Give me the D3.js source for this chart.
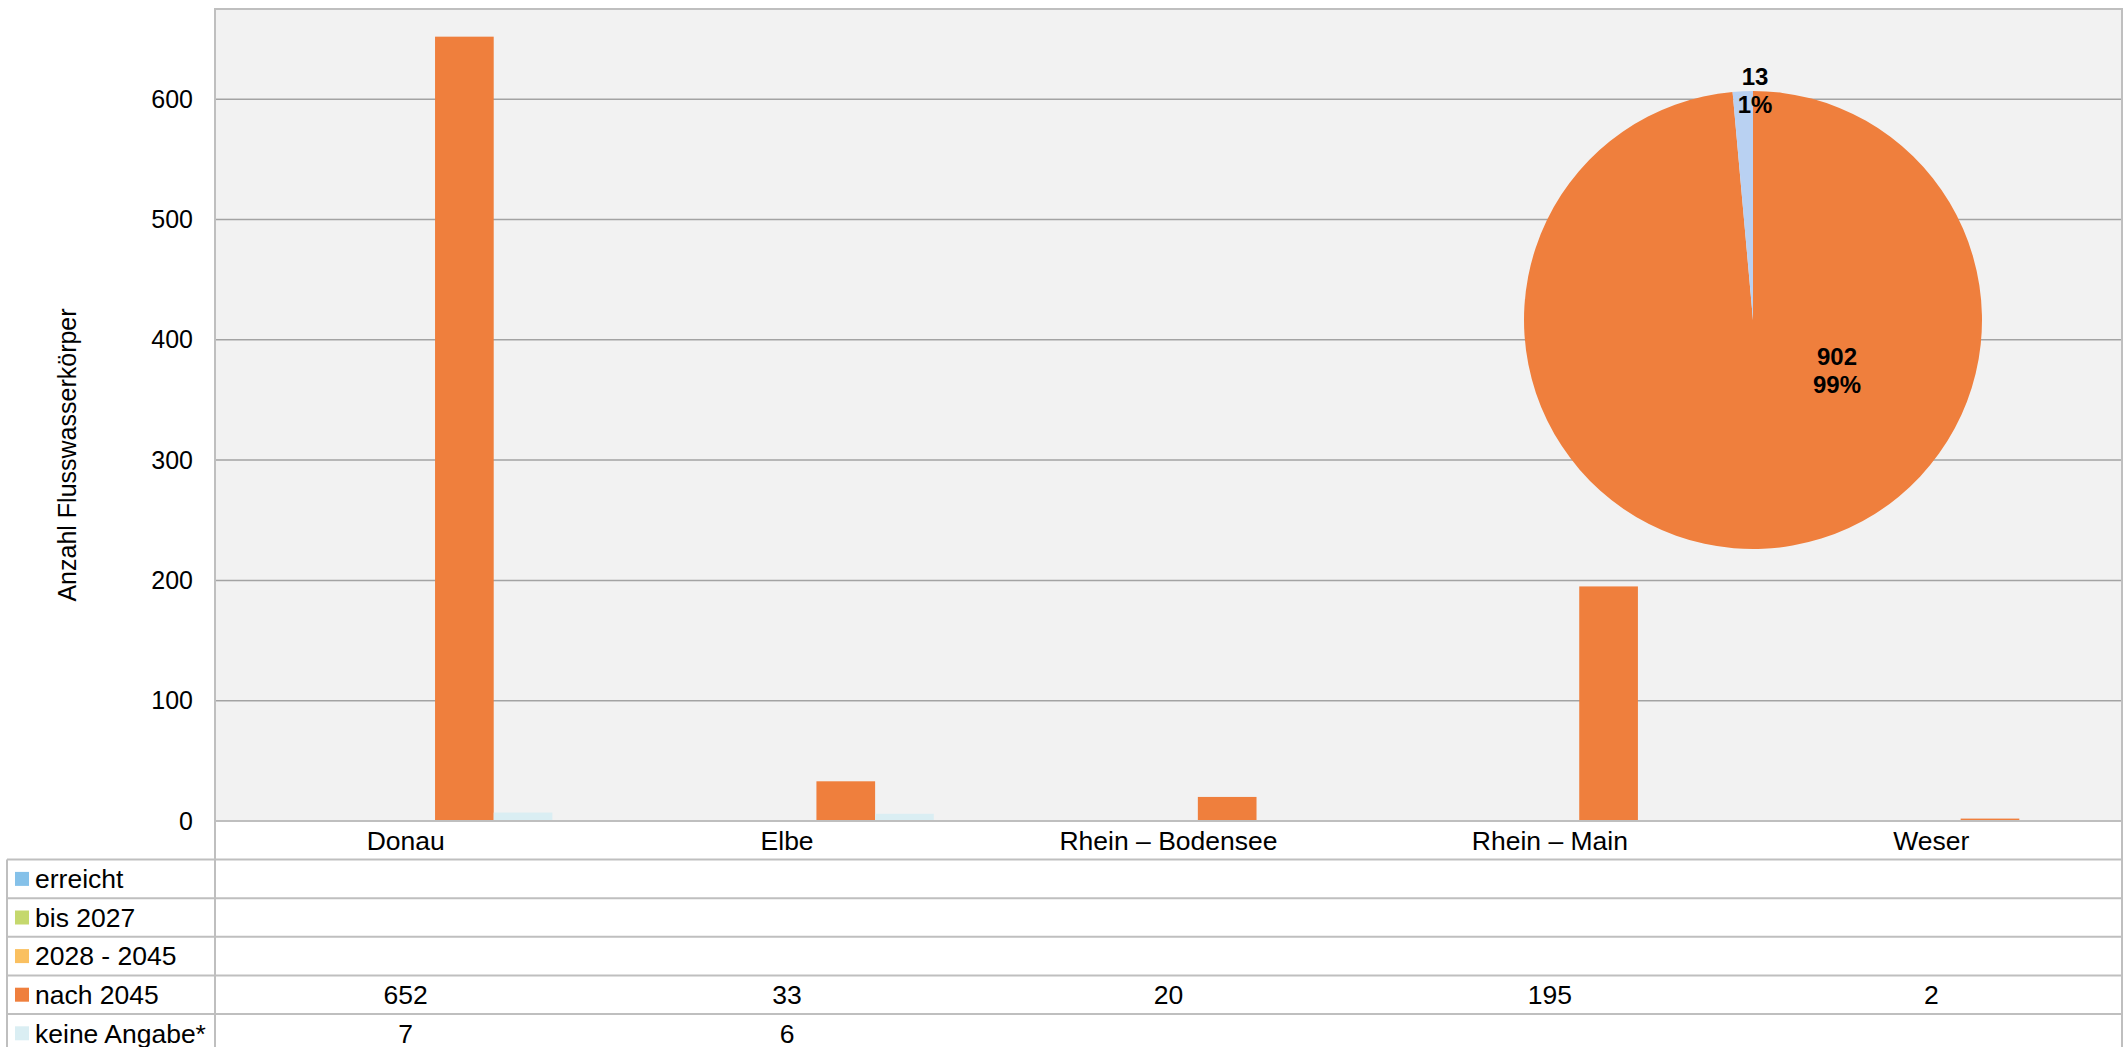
<!DOCTYPE html>
<html>
<head>
<meta charset="utf-8">
<script src="https://cdn.jsdelivr.net/npm/d3@7"></script>
<style>
  body { margin: 0; background: #fff; }
  svg { display: block; font-family: "Liberation Sans", Arial, sans-serif; }
</style>
</head>
<body>
<div id="chart"></div>
<script>
// data
var categories = ["Donau", "Elbe", "Rhein – Bodensee", "Rhein – Main", "Weser"]
var seriesNames = ["erreicht", "bis 2027", "2028 - 2045", "nach 2045", "keine Angabe*"]
var seriesColors = ["#85C1E9", "#C5D86D", "#FAC060", "#EF7F3D", "#DAEEF3"]
var erreicht = [null, null, null, null, null]
var bis2027 = [null, null, null, null, null]
var bis2045 = [null, null, null, null, null]
var nach2045 = [652, 33, 20, 195, 2]
var keineAngabe = [7, 6, null, null, null]
var seriesValues = [erreicht, bis2027, bis2045, nach2045, keineAngabe]
var yTicks = [0, 100, 200, 300, 400, 500, 600]
var pieLabels = ["nach 2045", "keine Angabe"]
var pieValues = [902, 13]
var pieColors = ["#EF7F3D", "#B9D1F2"]

var width = 2127, height = 1047
var L = 215, R = 2122, T = 9, B = 821
var rowH = 38.6
var tableLeft = 7
var tableFont = 26.5

var svg = d3.select("#chart").append("svg")
	.attr("width", width)
	.attr("height", height)

// plot background
svg.append("rect")
	.attr("x", L).attr("y", T)
	.attr("width", R - L).attr("height", B - T)
	.attr("fill", "#F2F2F2")

var x0 = d3.scaleBand().domain(categories).range([L, R])
var x1 = d3.scaleBand().domain(seriesNames).range([0, x0.bandwidth()]).paddingOuter(0.75)
var y = d3.scaleLinear().domain([0, 675]).range([B, T])

// gridlines
svg.append("g").selectAll("line")
	.data(yTicks.filter(function(d){ return d > 0 }))
	.enter().append("line")
	.attr("x1", L).attr("x2", R)
	.attr("y1", function(d){ return y(d) }).attr("y2", function(d){ return y(d) })
	.attr("stroke", "#A3A3A3").attr("stroke-width", 1.5)

// y axis labels
var yAxis = d3.axisLeft(y).tickValues(yTicks).tickSize(0).tickPadding(22)
var ya = svg.append("g").attr("transform", "translate(" + L + ",0)").call(yAxis)
ya.select(".domain").remove()
ya.selectAll("text").attr("font-size", 25).attr("fill", "#000")
	.attr("font-family", "Liberation Sans, Arial, sans-serif")

// bars
var flat = []
categories.forEach(function(c, i){
	seriesNames.forEach(function(s, j){
		var v = seriesValues[j][i]
		if (v != null) flat.push({cat: c, s: s, v: v, color: seriesColors[j]})
	})
})
svg.append("g").selectAll("rect")
	.data(flat)
	.enter().append("rect")
	.attr("x", function(d){ return x0(d.cat) + x1(d.s) })
	.attr("width", x1.bandwidth())
	.attr("y", function(d){ return y(d.v) })
	.attr("height", function(d){ return B - y(d.v) })
	.attr("fill", function(d){ return d.color })

// pie
var cx = 1753, cy = 320, r = 229
var pie = d3.pie().sort(null).value(function(d){ return d })
var arc = d3.arc().innerRadius(0).outerRadius(r)
var pg = svg.append("g").attr("transform", "translate(" + cx + "," + cy + ")")
pg.selectAll("path")
	.data(pie(pieValues))
	.enter().append("path")
	.attr("d", arc)
	.attr("fill", function(d, i){ return pieColors[i] })

var total = d3.sum(pieValues)
var pieLabelPos = [[84, 45], [2, -235]]
pieValues.forEach(function(v, i){
	var t = pg.append("text")
		.attr("text-anchor", "middle")
		.attr("font-size", 24).attr("font-weight", "bold")
		.attr("x", pieLabelPos[i][0]).attr("y", pieLabelPos[i][1])
	t.append("tspan").attr("x", pieLabelPos[i][0]).attr("dy", 0).text(v)
	t.append("tspan").attr("x", pieLabelPos[i][0]).attr("dy", 28)
		.text(Math.round(v / total * 100) + "%")
})

// plot border
svg.append("rect")
	.attr("x", L).attr("y", T)
	.attr("width", R - L).attr("height", B - T)
	.attr("fill", "none").attr("stroke", "#BFBFBF").attr("stroke-width", 2)

// data table
var tg = svg.append("g")
var lineColor = "#BFBFBF"
tg.append("line").attr("x1", L).attr("x2", L).attr("y1", B).attr("y2", B + rowH * 6)
	.attr("stroke", lineColor).attr("stroke-width", 2)
tg.append("line").attr("x1", R).attr("x2", R).attr("y1", B).attr("y2", B + rowH * 6)
	.attr("stroke", lineColor).attr("stroke-width", 2)
tg.append("line").attr("x1", tableLeft).attr("x2", tableLeft).attr("y1", B + rowH).attr("y2", B + rowH * 6)
	.attr("stroke", lineColor).attr("stroke-width", 2)
for (var k = 1; k <= 6; k++) {
	tg.append("line").attr("x1", tableLeft).attr("x2", R)
		.attr("y1", B + rowH * k).attr("y2", B + rowH * k)
		.attr("stroke", lineColor).attr("stroke-width", 2)
}

tg.selectAll("text.cat")
	.data(categories)
	.enter().append("text")
	.attr("class", "cat")
	.attr("x", function(d){ return x0(d) + x0.bandwidth() / 2 })
	.attr("y", B + rowH / 2)
	.attr("dy", "0.35em")
	.attr("text-anchor", "middle")
	.attr("font-size", tableFont)
	.text(function(d){ return d })

seriesNames.forEach(function(s, j){
	var ry = B + rowH * (j + 1)
	tg.append("rect")
		.attr("x", 15).attr("y", ry + rowH / 2 - 7)
		.attr("width", 14).attr("height", 14)
		.attr("fill", seriesColors[j])
	tg.append("text")
		.attr("x", 35).attr("y", ry + rowH / 2).attr("dy", "0.35em")
		.attr("font-size", tableFont).text(s)
	tg.selectAll("text.v" + j)
		.data(seriesValues[j])
		.enter().append("text")
		.attr("x", function(d, i){ return x0(categories[i]) + x0.bandwidth() / 2 })
		.attr("y", ry + rowH / 2).attr("dy", "0.35em")
		.attr("text-anchor", "middle")
		.attr("font-size", tableFont)
		.text(function(d){ return d == null ? "" : d })
})

// y axis title
svg.append("text")
	.attr("transform", "translate(67,455) rotate(-90)")
	.attr("text-anchor", "middle")
	.attr("dy", "0.35em")
	.attr("font-size", 25)
	.text("Anzahl Flusswasserkörper")
</script>
</body>
</html>
